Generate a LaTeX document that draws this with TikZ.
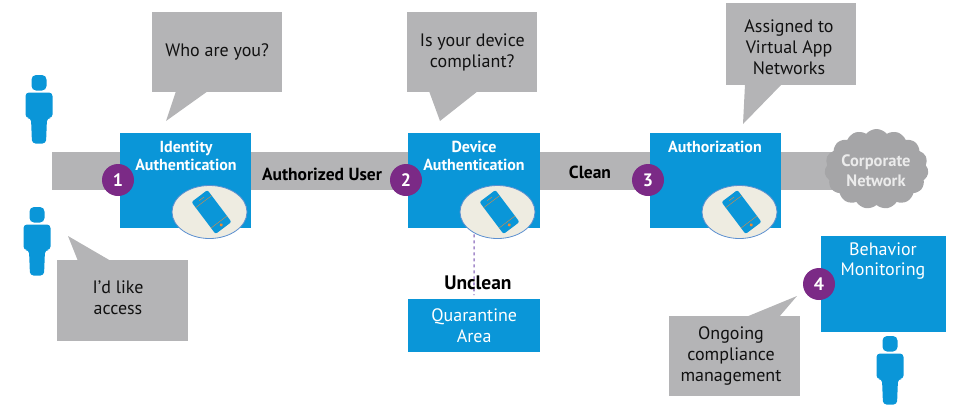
\documentclass[tikz,border=0pt]{standalone}
\usepackage{fontspec}
\setmainfont{PT Sans}
\usetikzlibrary{shapes.symbols}
\definecolor{hpblue}{HTML}{0A96D8}
\definecolor{bargray}{HTML}{B4B4B6}
\definecolor{cloudgray}{HTML}{A5A5A7}
\definecolor{hppurple}{HTML}{7B2A86}
\definecolor{ovalfill}{HTML}{EEECE1}
\definecolor{ovalline}{HTML}{5B8FD0}
\definecolor{phoneline}{HTML}{F28A30}
\definecolor{dashpurple}{HTML}{A58CCB}
\definecolor{txt}{HTML}{111111}
\tikzset{
  bluebox/.style={fill=hpblue,anchor=north west,inner sep=0pt,text=white,align=center},
  badge/.style={circle,fill=hppurple,minimum size=32pt,inner sep=0pt,text=white,font=\fontsize{18}{18}\selectfont\bfseries},
  bubble/.style={fill=bargray,anchor=north west,inner sep=0pt,text=txt,align=center,font=\fontsize{18}{21}\selectfont},
  tail/.style={fill=bargray},
  boxtext/.style={text=white,align=center,font=\fontsize{16}{18}\selectfont\bfseries},
  bigtext/.style={text=white,align=center,font=\fontsize{18}{20}\selectfont},
  lbl/.style={text=black,font=\fontsize{17.5}{18}\selectfont\bfseries},
  barline/.style={draw=bargray,line width=38pt},
  netcloud/.style={cloud,cloud puffs=15,cloud puff arc=100,aspect=1.3,fill=cloudgray,minimum width=104pt,minimum height=80pt,inner sep=0pt},
  cloudtext/.style={text=white!92!black,align=center,font=\fontsize{16.5}{20}\selectfont\bfseries},
  person/.style={fill=hpblue}
}
\newcommand{\drawperson}[2]{%
  \begin{scope}[shift={(#1,#2)}]
    \fill[person,rounded corners=4.5pt] (-7.5,0) rectangle (7.5,15.5);
    \fill[person,rounded corners=3.5pt] (-13.5,17.5) -- (13.5,17.5) -- (13.5,43) -- (8,43) -- (7,68.5) -- (-7,68.5) -- (-8,43) -- (-13.5,43) -- cycle;
  \end{scope}}
\newcommand{\drawphone}[2]{%
  \fill[ovalfill,draw=ovalline,line width=0.8pt] (#1,#2) ellipse [x radius=37.5pt,y radius=26.5pt];
  \begin{scope}[shift={(#1+2,#2)},rotate=37]
    \fill[hpblue,rounded corners=2pt] (-10,-20) rectangle (10,20);
    \draw[phoneline,line width=0.35pt] (-10,-13) -- (10,-13) (-10,12.5) -- (10,12.5);
    \draw[phoneline,line width=0.4pt] (-3,-16.5) -- (3,-16.5);
    \fill[phoneline] (0,16.2) circle (1.8pt);
  \end{scope}}
\begin{document}
\begin{tikzpicture}[x=1pt,y=-1pt]
\useasboundingbox (0,0) rectangle (960,408);
\coordinate (start) at (52,171);
\coordinate (barend) at (876,171);
\draw[barline] (start) -- (barend);
\node[netcloud] (cloudnet) at (876.5,169) {};
\node[cloudtext] (cloudt) at (876,171) {Corporate\\Network};
% boxes
\node[bluebox,minimum width=131pt,minimum height=95pt] (idbox) at (120,133) {};
\node[bluebox,minimum width=132pt,minimum height=95pt] (devbox) at (408,133) {};
\node[bluebox,minimum width=131pt,minimum height=95pt] (authbox) at (650,133) {};
\node[bluebox,minimum width=125pt,minimum height=96pt] (behbox) at (821,236) {};
\node[bluebox,minimum width=132pt,minimum height=53pt,font=\fontsize{18}{21}\selectfont] (quar) at (408,299) {Quarantine\\Area};
\draw[dashpurple,dashed,line width=1.6pt] (devbox.south) -- (474,295);
\node[boxtext] (idt) at (186,156) {Identity\\Authentication};
\node[boxtext] (devt) at (474,156) {Device\\Authentication};
\node[boxtext] (autht) at (715,147) {Authorization};
\node[bigtext] (beht) at (883,261) {Behavior\\Monitoring};
\drawphone{209.5}{212}
\drawphone{497.5}{212}
\drawphone{739.5}{212}
% badges
\node[badge] (b1) at (118,180) {1};
\node[badge] (b2) at (406,180) {2};
\node[badge] (b3) at (648,180) {3};
\node[badge] (b4) at (819,284) {4};
% labels
\node[lbl] (l1) at (322,174) {Authorized User};
\node[lbl] (l2) at (590,172) {Clean};
\node[lbl,font=\fontsize{19.5}{20}\selectfont\bfseries] (l3) at (478,283) {Unclean};
% bubbles
\fill[tail] (176,91) -- (166,121) -- (208,91) -- cycle;
\node[bubble,minimum width=130pt,minimum height=80pt] (q1) at (152,12) {Who are you?};
\fill[tail] (429,91) -- (440,121) -- (478,91) -- cycle;
\node[bubble,minimum width=130pt,minimum height=80pt] (q2) at (407,12) {Is your device\\compliant?};
\fill[tail] (745,84) -- (743,124) -- (782,84) -- cycle;
\node[bubble,minimum width=130pt,minimum height=82pt] (q3) at (726,3) {};
\node[bubble,anchor=center] (q3t) at (789,47.5) {Assigned to\\Virtual App\\Networks};
\fill[tail] (78,261) -- (68,236) -- (111,261) -- cycle;
\node[bubble,minimum width=131pt,minimum height=81pt] (q4) at (57,260) {};
\node[bubble,anchor=center] (q4t) at (118,298) {I'd like\\access};
\fill[tail] (746,317) -- (797,296) -- (779,317) -- cycle;
\node[bubble,minimum width=131pt,minimum height=80pt] (q5) at (669,316) {};
\node[bubble,anchor=center] (q5t) at (731,356) {Ongoing\\compliance\\management};
% people
\drawperson{39}{75}
\drawperson{37}{207}
\drawperson{890}{336}
\end{tikzpicture}
\end{document}
